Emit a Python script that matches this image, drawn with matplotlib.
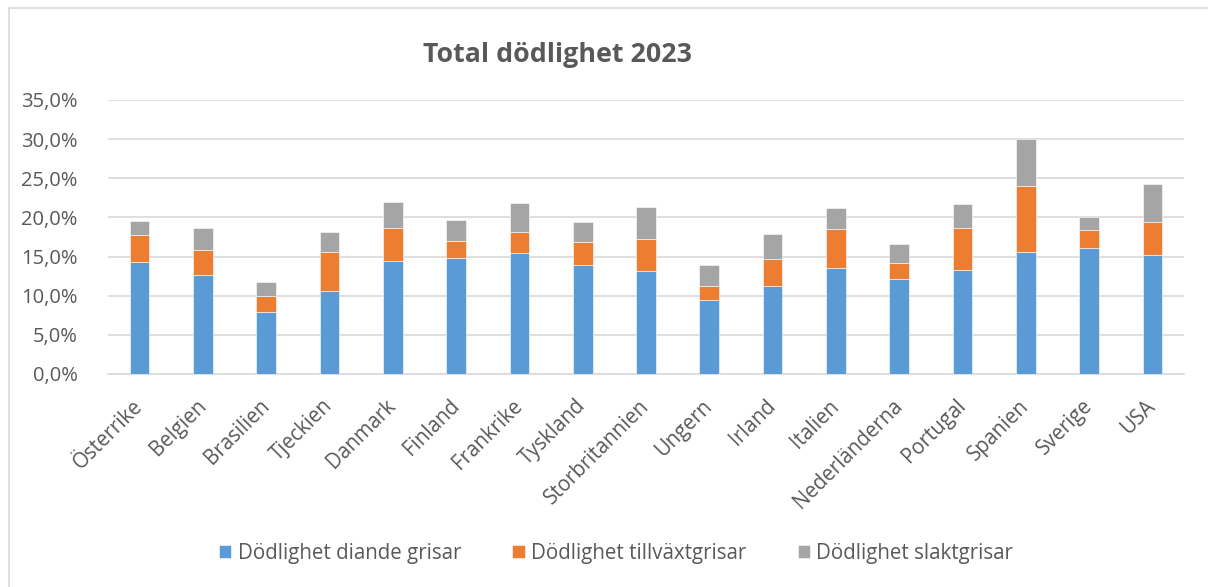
import matplotlib.pyplot as plt
import matplotlib.patches as patches
from matplotlib.ticker import FuncFormatter, MultipleLocator

countries = ["Österrike", "Belgien", "Brasilien", "Tjeckien", "Danmark", "Finland",
             "Frankrike", "Tyskland", "Storbritannien", "Ungern", "Irland", "Italien",
             "Nederländerna", "Portugal", "Spanien", "Sverige", "USA"]
diande = [14.3, 12.6, 7.9, 10.6, 14.4, 14.8, 15.4, 13.9, 13.2, 9.5, 11.3, 13.5,
          12.1, 13.3, 15.6, 16.1, 15.2]
tillvaxt = [3.4, 3.3, 2.0, 5.0, 4.2, 2.2, 2.8, 2.9, 4.1, 1.8, 3.4, 5.0,
            2.1, 5.3, 8.4, 2.3, 4.2]
slakt = [1.8, 2.8, 1.8, 2.5, 3.4, 2.7, 3.6, 2.6, 4.0, 2.6, 3.2, 2.7,
         2.4, 3.1, 6.0, 1.7, 4.9]
series_names = ["Dödlighet diande grisar", "Dödlighet tillväxtgrisar", "Dödlighet slaktgrisar"]

plt.rcParams['font.family'] = ['Open Sans', 'DejaVu Sans']
txt = "#595959"
grid = "#D9D9D9"

W, H = 1208, 587
fig = plt.figure(figsize=(W / 100, H / 100), dpi=100)

# chart-area border (left/top visible, rest runs off the image)
fig.patches.append(patches.Rectangle((9 / W, -0.1), 1.2, 1 - 8 / H + 0.1,
                                     transform=fig.transFigure, fill=False,
                                     edgecolor=grid, linewidth=1.2))

ax = fig.add_axes([108 / W, 1 - 374 / H, (1184 - 108) / W, (374 - 100) / H])

x = range(len(countries))
bottom2 = [a + b for a, b in zip(diande, tillvaxt)]
w = 0.31
ax.bar(x, diande, width=w, color="#5B9BD5", edgecolor="white", linewidth=0.4,
       label=series_names[0], zorder=3)
ax.bar(x, tillvaxt, width=w, bottom=diande, color="#ED7D31", edgecolor="white",
       linewidth=0.4, label=series_names[1], zorder=3)
ax.bar(x, slakt, width=w, bottom=bottom2, color="#A5A5A5", edgecolor="white",
       linewidth=0.4, label=series_names[2], zorder=3)

ax.set_xlim(-0.5, len(countries) - 0.5)
ax.set_ylim(0, 35)
ax.yaxis.set_major_locator(MultipleLocator(5))
ax.yaxis.set_major_formatter(FuncFormatter(lambda v, p: f"{v:.1f}%".replace(".", ",")))
ax.grid(axis="y", color=grid, linewidth=1.2, zorder=0)
for s in ["top", "right", "left"]:
    ax.spines[s].set_visible(False)
ax.spines["bottom"].set_color(grid)
ax.spines["bottom"].set_linewidth(1.2)
ax.tick_params(axis="y", length=0, pad=22, labelsize=14.5, labelcolor=txt)
ax.tick_params(axis="x", length=0, pad=8, labelsize=14.8, labelcolor=txt)
ax.set_xticks(list(x))
ax.set_xticklabels(countries, rotation=45, ha="right", va="center",
                   rotation_mode="anchor")
for lbl in ax.get_xticklabels():
    lbl.set_y(-0.065)

fig.text(557 / W, 1 - 55 / H, "Total dödlighet 2023", ha="center", va="center",
         fontsize=19.3, fontweight="bold", color=txt)

fig.legend(loc="center", bbox_to_anchor=(616 / W, 1 - 553 / H), ncol=3,
           frameon=False, fontsize=14.8, labelcolor=txt, handlelength=0.6,
           handleheight=0.6, handletextpad=0.3, columnspacing=2.5)

fig.savefig("out.png", dpi=100)
